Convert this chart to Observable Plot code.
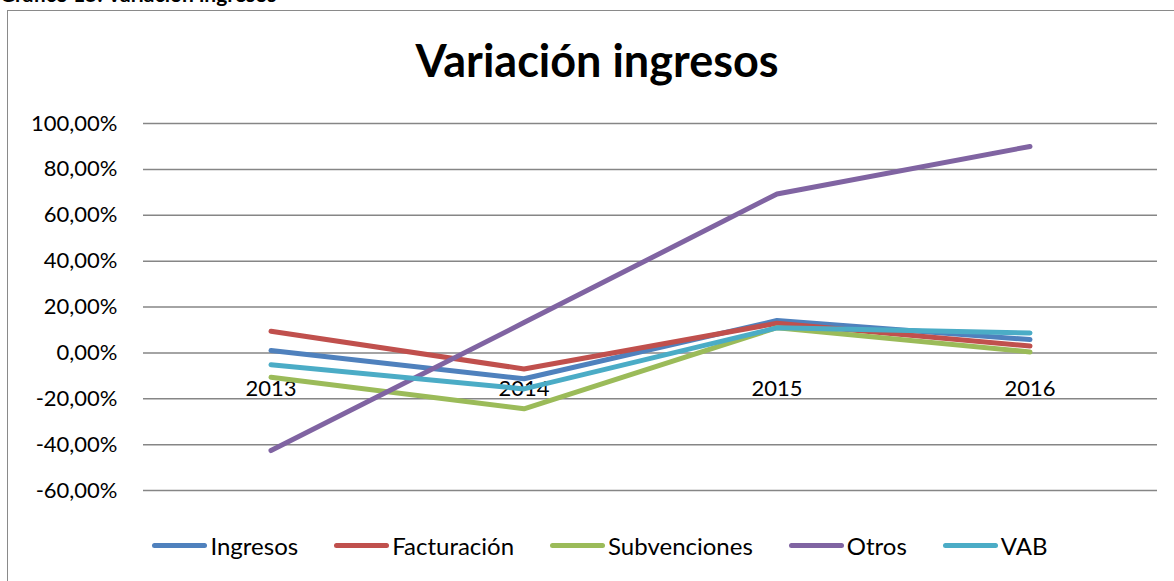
<!DOCTYPE html>
<html>
<head>
<meta charset="utf-8">
<script src="https://cdn.jsdelivr.net/npm/d3@7"></script>
<script src="https://cdn.jsdelivr.net/npm/@observablehq/plot@0.6"></script>
<style>
  html, body { margin: 0; padding: 0; background: #fff; }
  body { width: 1174px; height: 581px; position: relative; overflow: hidden; font-family: Lato, "Open Sans", sans-serif; }
  #caption { position: absolute; left: 0; top: -19px; font-weight: bold; font-size: 21px; white-space: nowrap; color: #000; }
  #frame { position: absolute; left: 7px; top: 10px; width: 1180px; height: 600px; border: 1.5px solid #8a8a8a; box-sizing: border-box; }
  #title { position: absolute; left: 0; width: 1194px; top: 34px; text-align: center; font-weight: bold; font-size: 45px; line-height: 52px; color: #000; }
  #chart { position: absolute; left: 0; top: 95px; }
  #legend { position: absolute; top: 531px; left: 0; width: 1200px; display: flex; justify-content: center; align-items: center; font-size: 24px; color: #000; }
  .item { display: flex; align-items: center; margin: 0 18px; }
  .sw { width: 55px; height: 5px; border-radius: 3px; margin-right: 3px; }
</style>
</head>
<body>
<div id="caption">Gráfico 15: Variación ingresos</div>
<div id="frame"></div>
<div id="title">Variación ingresos</div>
<div id="chart"></div>
<div id="legend"></div>
<script>
const years = ["2013", "2014", "2015", "2016"];
const seriesNames = ["Ingresos", "Facturación", "Subvenciones", "Otros", "VAB"];
const colors = ["#4F81BD", "#C0504D", "#9BBB59", "#8064A2", "#4BACC6"];
const ingresos = [1.0, -11.3, 14.1, 5.8];
const facturacion = [9.4, -7.0, 12.9, 3.0];
const subvenciones = [-10.6, -24.4, 11.0, 0.4];
const otros = [-42.6, 13.2, 69.3, 90.0];
const vab = [-5.2, -15.7, 10.9, 8.7];
const yTicks = [-60, -40, -20, 0, 20, 40, 60, 80, 100];

const seriesValues = [ingresos, facturacion, subvenciones, otros, vab];
const data = [];
seriesNames.forEach((s, i) => years.forEach((y, j) => data.push({series: s, year: y, value: seriesValues[i][j]})));

const fmt = d => d.toFixed(2).replace(".", ",") + "%";

const chart = Plot.plot({
  width: 1174,
  height: 420,
  marginTop: 28,
  marginBottom: 25,
  marginLeft: 143,
  marginRight: 17,
  style: {fontFamily: "Lato, 'Open Sans', sans-serif", fontSize: "22px", color: "#000", background: "transparent", overflow: "visible"},
  x: {type: "band", domain: years, padding: 0, axis: null},
  y: {domain: [-60, 100], axis: null},
  color: {domain: seriesNames, range: colors},
  marks: [
    Plot.ruleY(yTicks, {stroke: "#868686", strokeWidth: 1.5, strokeOpacity: 1}),
    Plot.axisY({ticks: yTicks, tickFormat: fmt, tickSize: 0, tickPadding: 26, fontSize: 22, fill: "#000", label: null}),
    Plot.text(years, {x: d => d, y: () => 0, dy: 36, text: d => d, fontSize: 22, fill: "#000"}),
    Plot.line(data, {x: "year", y: "value", z: "series", stroke: "series", strokeWidth: 5, strokeLinecap: "round", strokeLinejoin: "round"})
  ]
});
document.getElementById("chart").appendChild(chart);

const legend = document.getElementById("legend");
seriesNames.forEach((s, i) => {
  const it = document.createElement("div");
  it.className = "item";
  const sw = document.createElement("div");
  sw.className = "sw";
  sw.style.background = colors[i];
  const t = document.createElement("span");
  t.textContent = s;
  it.appendChild(sw);
  it.appendChild(t);
  legend.appendChild(it);
});
</script>
</body>
</html>
